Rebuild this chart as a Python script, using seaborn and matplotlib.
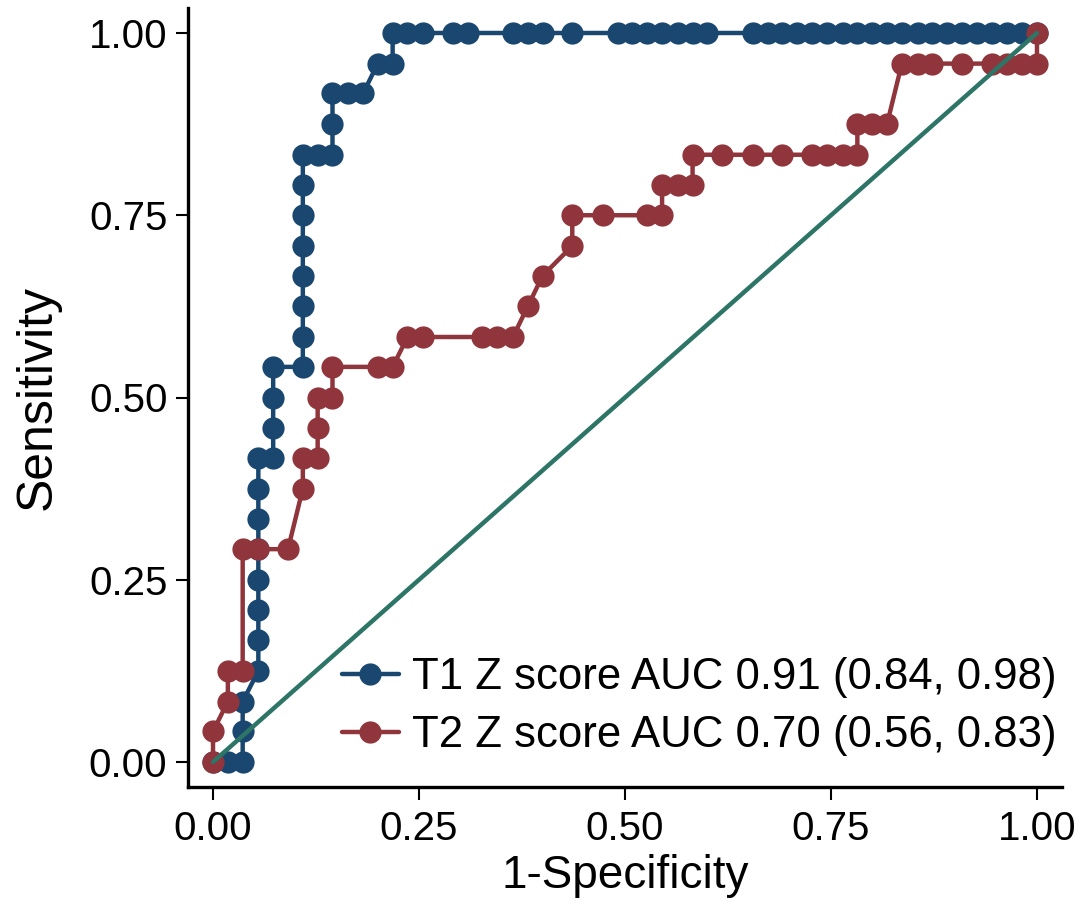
import matplotlib
matplotlib.use("Agg")
import matplotlib.pyplot as plt
import seaborn as sns
import pandas as pd

# ---- data ----
t1_fpr = [0, 0.018, 0.036, 0.036, 0.036, 0.055, 0.055, 0.055, 0.055, 0.055, 0.055, 0.055, 0.055,
          0.073, 0.073, 0.073, 0.073, 0.109, 0.109, 0.109, 0.109, 0.109, 0.109, 0.109, 0.109,
          0.127, 0.145, 0.145, 0.145, 0.164, 0.182, 0.2, 0.218, 0.218, 0.236, 0.255, 0.291, 0.309,
          0.364, 0.382, 0.4, 0.436, 0.491, 0.509, 0.527, 0.545, 0.564, 0.582, 0.6,
          0.655, 0.673, 0.691, 0.709, 0.727, 0.745, 0.764, 0.782, 0.8, 0.818, 0.836, 0.855,
          0.873, 0.891, 0.909, 0.927, 0.945, 0.964, 0.982, 1.0]
t1_tpr = [0, 0, 0, 0.042, 0.083, 0.125, 0.167, 0.208, 0.25, 0.292, 0.333, 0.375, 0.417,
          0.417, 0.458, 0.5, 0.542, 0.542, 0.583, 0.625, 0.667, 0.708, 0.75, 0.792, 0.833,
          0.833, 0.833, 0.875, 0.917, 0.917, 0.917, 0.958, 0.958, 1.0, 1.0, 1.0, 1.0, 1.0,
          1.0, 1.0, 1.0, 1.0, 1.0, 1.0, 1.0, 1.0, 1.0, 1.0, 1.0,
          1.0, 1.0, 1.0, 1.0, 1.0, 1.0, 1.0, 1.0, 1.0, 1.0, 1.0, 1.0,
          1.0, 1.0, 1.0, 1.0, 1.0, 1.0, 1.0, 1.0]

t2_fpr = [0, 0, 0.018, 0.018, 0.036, 0.036, 0.055, 0.091, 0.109, 0.109, 0.127, 0.127, 0.127,
          0.145, 0.145, 0.2, 0.218, 0.236, 0.255, 0.327, 0.345, 0.364, 0.382, 0.4, 0.436, 0.436,
          0.473, 0.527, 0.545, 0.545, 0.564, 0.582, 0.582, 0.618, 0.655, 0.691, 0.727, 0.745,
          0.764, 0.782, 0.782, 0.8, 0.818, 0.836, 0.855, 0.873, 0.909, 0.945, 0.964, 0.982,
          1.0, 1.0]
t2_tpr = [0, 0.042, 0.083, 0.125, 0.125, 0.292, 0.292, 0.292, 0.375, 0.417, 0.417, 0.458, 0.5,
          0.5, 0.542, 0.542, 0.542, 0.583, 0.583, 0.583, 0.583, 0.583, 0.625, 0.667, 0.708, 0.75,
          0.75, 0.75, 0.75, 0.792, 0.792, 0.792, 0.833, 0.833, 0.833, 0.833, 0.833, 0.833,
          0.833, 0.833, 0.875, 0.875, 0.875, 0.958, 0.958, 0.958, 0.958, 0.958, 0.958, 0.958,
          0.958, 1.0]

ref_x = [0, 1]
ref_y = [0, 1]

labels = ["T1 Z score AUC 0.91 (0.84, 0.98)", "T2 Z score AUC 0.70 (0.56, 0.83)"]
tick_vals = [0, 0.25, 0.5, 0.75, 1.0]
tick_labels = ["0.00", "0.25", "0.50", "0.75", "1.00"]

c_blue = "#1a476f"
c_red = "#90353b"
c_green = "#2d7566"

sns.set_style("ticks")
plt.rcParams["font.family"] = ["Liberation Sans", "DejaVu Sans"]
plt.rcParams["text.color"] = "black"
plt.rcParams["axes.labelcolor"] = "black"

W, H = 1085, 901
fig = plt.figure(figsize=(W / 100, H / 100), dpi=100)
ax = fig.add_axes([188.3 / W, 1 - 786.8 / H, 873.4 / W, 778.6 / H])

df1 = pd.DataFrame({"x": t1_fpr, "y": t1_tpr})
df2 = pd.DataFrame({"x": t2_fpr, "y": t2_tpr})
dref = pd.DataFrame({"x": ref_x, "y": ref_y})

common = dict(marker="o", markersize=16, linewidth=3.2, sort=False, estimator=None,
              markeredgewidth=0)
sns.lineplot(data=df1, x="x", y="y", ax=ax, color=c_blue, label=labels[0], zorder=3, **common)
sns.lineplot(data=df2, x="x", y="y", ax=ax, color=c_red, label=labels[1], zorder=4, **common)
sns.lineplot(data=dref, x="x", y="y", ax=ax, color=c_green, linewidth=3.2, sort=False,
             estimator=None, legend=False, zorder=5)

ax.set_xlim(-0.03, 1.03)
ax.set_ylim(-0.034, 1.034)
ax.set_xticks(tick_vals)
ax.set_xticklabels(tick_labels)
ax.set_yticks(tick_vals)
ax.set_yticklabels(tick_labels)
ax.tick_params(axis="both", which="major", labelsize=29, length=9, width=1.5,
               color="black", labelcolor="black", direction="out")
ax.tick_params(axis="x", pad=8)
ax.tick_params(axis="y", pad=6)

for s in ["top", "right"]:
    ax.spines[s].set_visible(False)
for s in ["left", "bottom"]:
    ax.spines[s].set_linewidth(2.4)
    ax.spines[s].set_color("black")

ax.set_xlabel("1-Specificity", fontsize=33, labelpad=4, color="black")
ax.set_ylabel("Sensitivity", fontsize=36, labelpad=20, color="black")

leg = ax.legend(loc="upper left", bbox_to_anchor=(342 / W, 1 - 657 / H),
                bbox_transform=fig.transFigure, frameon=False, fontsize=31.5,
                handlelength=1.3, handletextpad=0.3, labelspacing=0.4,
                borderpad=0, borderaxespad=0, numpoints=1)
for t in leg.get_texts():
    t.set_color("black")

fig.savefig("out.png", dpi=100, facecolor="white")
